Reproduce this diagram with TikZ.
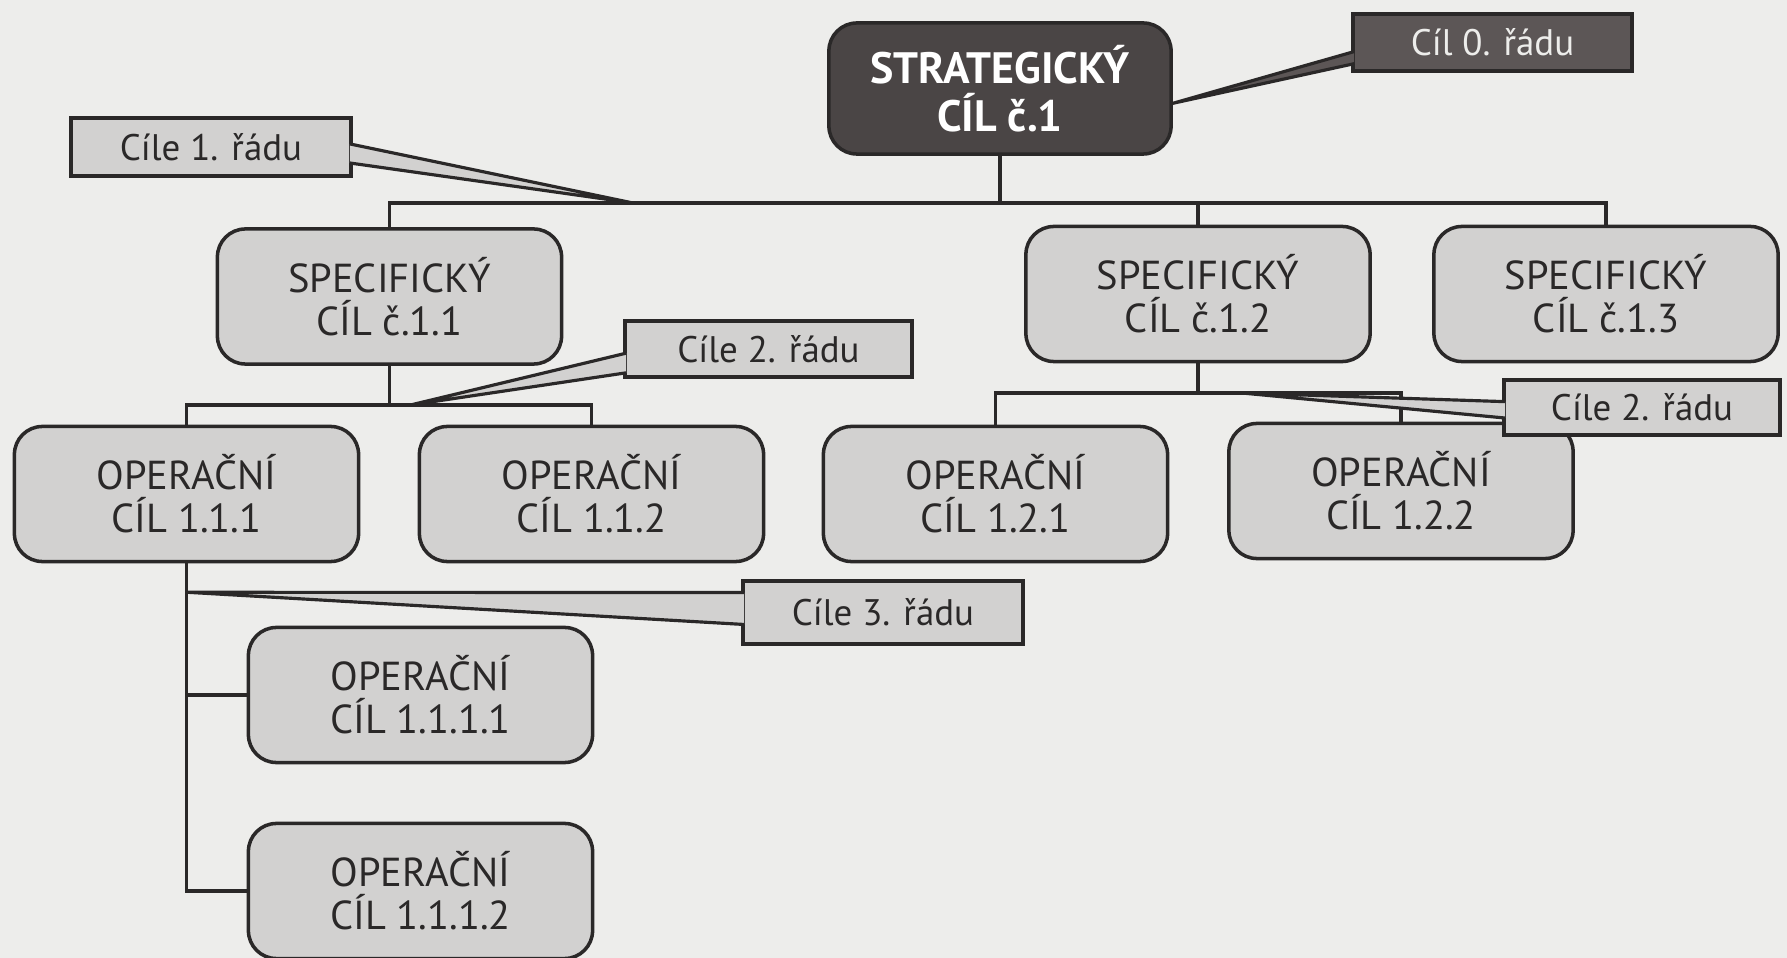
\documentclass[tikz,border=0pt]{standalone}
\usepackage{fontspec}
\setmainfont{PT Sans}
\usetikzlibrary{calc}
\definecolor{paper}{HTML}{EDEDEB}
\definecolor{boxgray}{HTML}{D2D1D0}
\definecolor{darkbox}{HTML}{4A4545}
\definecolor{darkcall}{HTML}{5C5656}
\definecolor{ink}{HTML}{2A2828}
\tikzset{ box/.style = { rectangle
                       , rounded corners = 0.28cm
                       , draw = ink
                       , line width     = 1pt
                       , fill = boxgray
                       , text = ink
                       , align = center
                       , inner sep      = 0pt
                       , minimum width  = 3.44cm
                       , minimum height = 1.35cm
                       , font = \fontsize{11.5}{12.2}\selectfont
                       },
          topbox/.style = { box
                          , fill = darkbox
                          , text = white
                          , minimum width  = 3.42cm
                          , minimum height = 1.31cm
                          , font = \bfseries\fontsize{12.5}{13.5}\selectfont
                          },
          cbox/.style = { rectangle
                        , draw = ink
                        , line width     = 1pt
                        , fill = boxgray
                        , text = ink
                        , inner sep      = 0pt
                        , minimum width  = 2.8cm
                        , minimum height = 0.58cm
                        , font = \fontsize{10.5}{12}\selectfont
                        },
          wedge/.style = { draw = ink
                         , line width = 0.9pt
                         , fill = boxgray
                         , line join = miter
                         },
          con/.style = { draw = ink
                       , line width = 1pt
                       }
        }

\begin{document}
\begin{tikzpicture}[x=0.01cm, y=-0.01cm]
    \useasboundingbox[fill=paper] (0,0) rectangle (1787,958);
    \node[topbox] (strat) at (1000,88.5) {STRATEGICKÝ\\CÍL č.1};
    \foreach \n/\x/\y/\t in {s11/389.5/296.5/{SPECIFICKÝ\\CÍL č.1.1},
                             s12/1198/294/{SPECIFICKÝ\\CÍL č.1.2},
                             s13/1606/294/{SPECIFICKÝ\\CÍL č.1.3},
                             o111/186.5/494/{OPERAČNÍ\\CÍL 1.1.1},
                             o112/591.5/494/{OPERAČNÍ\\CÍL 1.1.2},
                             o121/995.5/494/{OPERAČNÍ\\CÍL 1.2.1},
                             o122/1401/491/{OPERAČNÍ\\CÍL 1.2.2},
                             o1111/420.5/695/{OPERAČNÍ\\CÍL 1.1.1.1},
                             o1112/420.5/891/{OPERAČNÍ\\CÍL 1.1.1.2}} {
      \node[box] (\n) at (\x,\y) {\t};
    }
    % tree lines
    \coordinate (b0) at (1000,203);
    \coordinate (b1) at (389.5,405);
    \coordinate (b2) at (1198,393);
    \draw[con] (strat.south) -- (b0)  (s12.north) -- (s12.north |- b0);
    \draw[con] (s11.north) |- (b0) -| (s13.north);
    \draw[con] (s11.south) -- (b1)  (o111.north) |- (b1) -| (o112.north);
    \draw[con] (s12.south) -- (b2)  (o121.north) |- (b2) -| (o122.north);
    \draw[con] (o111.south) |- (o1112.west)
               (o1111.west) -- (o1111.west -| o111.south);
    % callouts
    \coordinate (p0) at ($(strat.north east)!.61!(strat.south east)$);
    \coordinate (p1) at (633,203);
    \coordinate (p2) at ($(b1)+(21,0)$);
    \coordinate (p3) at ($(b2)+(44,0)$);
    \coordinate (p4) at ($(o111.south)+(1,29)$);
    \node[cbox, fill=darkcall, text=paper, minimum width=2.79cm, minimum height=0.57cm]
         (c0) at (1492.5,42.5) {Cíl 0. řádu};
    \node[cbox] (c1) at (211,147) {Cíle 1. řádu};
    \node[cbox, minimum width=2.87cm, minimum height=0.56cm] (c2) at (768.5,349) {Cíle 2. řádu};
    \node[cbox, minimum width=2.76cm, minimum height=0.55cm] (c3) at (1642,407.5) {Cíle 2. řádu};
    \node[cbox, minimum height=0.63cm] (c4) at (883,612.5) {Cíle 3. řádu};
    \draw[wedge, fill=darkcall] ($(c0.north west)!.65!(c0.south west)+(3,0)$) -- (p0)
                             -- ($(c0.north west)!.85!(c0.south west)+(3,0)$);
    \draw[wedge] ($(c1.north east)!.45!(c1.south east)+(-3,0)$) -- (p1)
              -- ($(c1.north east)!.76!(c1.south east)+(-3,0)$);
    \draw[wedge] ($(c2.north west)!.57!(c2.south west)+(3,0)$) -- (p2)
              -- ($(c2.north west)!.9!(c2.south west)+(3,0)$);
    \draw[wedge] ($(c3.north west)!.4!(c3.south west)+(3,0)$) -- (p3)
              -- ($(c3.north west)!.68!(c3.south west)+(3,0)$);
    \draw[wedge] ($(c4.north west)!.2!(c4.south west)+(3,0)$) -- (p4)
              -- ($(c4.north west)!.68!(c4.south west)+(3,0)$);
\end{tikzpicture}
\end{document}
